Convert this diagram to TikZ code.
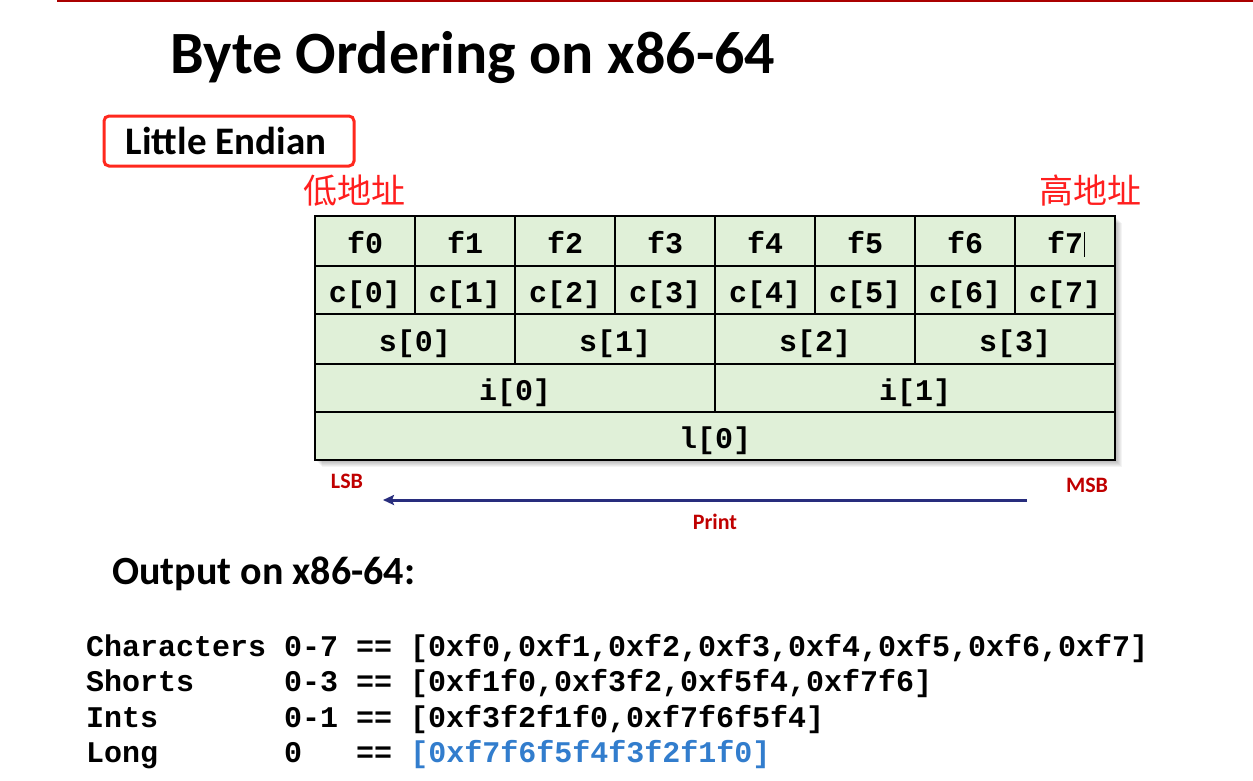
\documentclass[tikz,border=0pt]{standalone}
\usepackage{fontspec}
\setmainfont{Carlito}
\setmonofont{Liberation Mono}
\newfontfamily\cjk{Noto Sans CJK SC}
\usetikzlibrary{arrows.meta}
\definecolor{topred}{RGB}{170,0,0}
\definecolor{boxred}{RGB}{255,40,30}
\definecolor{cjkred}{RGB}{255,30,30}
\definecolor{cellgreen}{RGB}{224,240,216}
\definecolor{darkred}{RGB}{192,0,0}
\definecolor{navyblue}{RGB}{40,45,125}
\definecolor{codeblue}{RGB}{50,125,205}
\tikzset{
  cell/.style={draw=black, line width=1.8pt, fill=cellgreen, minimum height=#1, inner sep=0pt,
    text height=30pt, text depth=5pt,
    font=\ttfamily\bfseries\fontsize{30}{36}\selectfont},
  cell/.default=50pt,
  sblabel/.style={inner sep=0pt, text=darkred, font=\bfseries\fontsize{22}{26}\selectfont},
  cjklabel/.style={inner sep=0pt, text=cjkred, font=\cjk\fontsize{34}{40}\selectfont},
  heading/.style={inner sep=0pt, anchor=base west, font=\bfseries\fontsize{40}{48}\selectfont},
  codeline/.style={inner sep=0pt, anchor=base west, font=\ttfamily\bfseries\fontsize{30}{36}\selectfont},
}
\begin{document}
\begin{tikzpicture}[x=1pt, y=-1pt]
\useasboundingbox (0,0) rectangle (1253,780);
\fill[white] (0,0) rectangle (1253,780);
\draw[topred, line width=2.2pt] (57,1) -- (1253,1);
\node[inner sep=0pt, anchor=base west, font=\bfseries\fontsize{60}{72}\selectfont] (title) at (170,73) {Byte Ordering on x86-64};
\node[draw=boxred, line width=3pt, rounded corners=5pt, minimum width=250pt, minimum height=50pt,
      inner sep=0pt, text height=27pt, text depth=0pt, font=\bfseries\fontsize{39}{46}\selectfont] (le) at (229,141) {\hspace*{-6pt}Little Endian};
\node[cjklabel] (low) at (354,191) {低地址};
\node[cjklabel] (high) at (1090,191) {高地址};
% shadow
\foreach \s in {1,...,7} { \fill[black, opacity=0.045] (315+\s,216+\s) rectangle (1115+\s,460+\s); }
% cells
\foreach \k in {0,...,7} {
  \node[cell=50pt, minimum width=100pt] (f\k) at ({365+100*\k},241) {f\k};
  \node[cell=48pt, minimum width=100pt] (c\k) at ({365+100*\k},290) {c[\k]};
}
\foreach \k in {0,...,3} {
  \node[cell=50pt, minimum width=200pt] (s\k) at ({415+200*\k},339) {s[\k]};
}
\foreach \k in {0,1} {
  \node[cell=48pt, minimum width=400pt] (i\k) at ({515+400*\k},388) {i[\k]};
}
\node[cell=48pt, minimum width=800pt] (l0) at (715,436) {l[0]};
\draw[black, line width=0.8pt] (1084,232) -- (1084,257);
% LSB / MSB / Print
\node[sblabel] (lsb) at (347,481) {LSB};
\node[sblabel] (msb) at (1087,485) {MSB};
\node[sblabel] (print) at (715,522) {Print};
\coordinate (arrS) at (1027,500);
\coordinate (arrE) at (383,500);
\draw[navyblue, line width=3pt, -{Stealth[length=11pt,width=10pt,inset=2pt]}] (arrS) -- (arrE);
% output
\node[heading] (out) at (112,584) {Output on x86-64:};
\node[codeline] (l1) at (86,656) {Characters 0-7 == [0xf0,0xf1,0xf2,0xf3,0xf4,0xf5,0xf6,0xf7]};
\node[codeline] (l2) at (86,691) {Shorts~~~~~0-3 == [0xf1f0,0xf3f2,0xf5f4,0xf7f6]};
\node[codeline] (l3) at (86,727) {Ints~~~~~~~0-1 == [0xf3f2f1f0,0xf7f6f5f4]};
\node[codeline] (l4) at (86,762) {Long~~~~~~~0~~~== \textcolor{codeblue}{[0xf7f6f5f4f3f2f1f0]}};
\end{tikzpicture}
\end{document}
